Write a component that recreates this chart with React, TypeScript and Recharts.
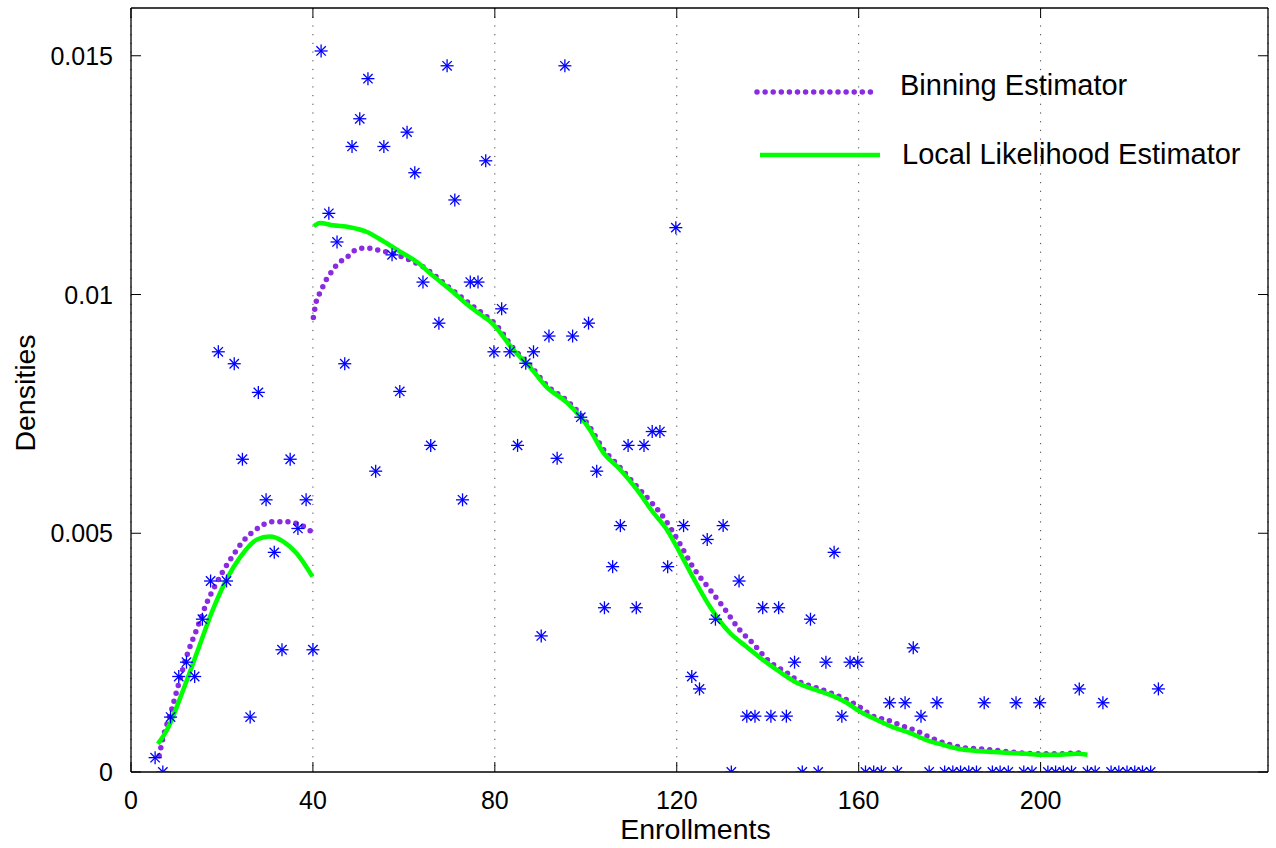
import React from 'react';
import { ComposedChart, Line, Scatter, XAxis, YAxis, CartesianGrid, Legend, Label } from 'recharts';

const FONT = '"Liberation Sans", Arial, Helvetica, sans-serif';

const xTicks = [0, 40, 80, 120, 160, 200];
const yTicks = [0, 0.005, 0.01, 0.015];
const yTickLabels = ['0', '0.005', '0.01', '0.015'];
const xDomain = [0, 250];
const yDomain = [0, 0.016];

const seriesNames = ['Binning Estimator', 'Local Likelihood Estimator'];
const xAxisTitle = 'Enrollments';
const yAxisTitle = 'Densities';

// observed histogram densities
const scatterX = [
  5.3, 7.0, 8.7, 10.5, 12.2, 14.0, 15.7, 17.5, 19.2, 21.0, 22.7, 24.5, 26.2, 28.0, 29.7, 31.5, 33.2, 35.0, 36.7, 38.5, 40.0,
  41.8, 43.5, 45.3, 47.0, 48.6, 50.3, 52.1, 53.8, 55.6, 57.4, 59.1, 60.7, 62.4, 64.2, 65.9, 67.7, 69.5, 71.2, 72.9, 74.6,
  76.3, 78.0, 79.8, 81.5, 83.3, 85.0, 86.8, 88.5, 90.2, 91.9, 93.7, 95.4, 97.1, 98.9, 100.6, 102.4, 104.1, 105.9, 107.6,
  109.3, 111.1, 112.8, 114.6, 116.3, 118.0, 119.8, 121.5, 123.3, 125.0, 126.7, 128.5, 130.2, 132.0, 133.7, 135.4, 137.2,
  138.9, 140.7, 142.4, 144.1, 145.9, 147.6, 149.4, 151.1, 152.8, 154.6, 156.3, 158.1, 159.8, 161.5, 163.3, 165.0, 166.8,
  168.5, 170.2, 172.0, 173.7, 175.5, 177.2, 178.9, 180.7, 182.4, 184.2, 185.9, 187.6, 189.4, 191.1, 192.9, 194.6, 196.3,
  198.1, 199.8, 201.6, 203.3, 205.0, 206.8, 208.5, 210.3, 212.0, 213.7, 215.5, 217.2, 219.0, 220.7, 222.4, 224.2, 225.9,
];
const scatterY = [
  0.0003, 0, 0.00115, 0.002, 0.0023, 0.002, 0.0032, 0.004, 0.0088, 0.004, 0.00855, 0.00655, 0.00115, 0.00795, 0.0057,
  0.0046, 0.00256, 0.00655, 0.0051, 0.0057, 0.00256,
  0.0151, 0.0117, 0.0111, 0.00855, 0.0131, 0.01368, 0.01452, 0.0063, 0.0131, 0.01083, 0.00797, 0.0134, 0.01255, 0.01026,
  0.00684, 0.0094, 0.01479, 0.01198, 0.0057, 0.01026,
  0.01026, 0.0128, 0.0088, 0.0097, 0.0088, 0.00684, 0.00856, 0.0088, 0.00285, 0.00913, 0.00657, 0.01479, 0.00913, 0.00743,
  0.0094, 0.0063, 0.00344, 0.0043, 0.00516,
  0.00684, 0.00344, 0.00684, 0.00713, 0.00713, 0.0043, 0.0114, 0.00516, 0.002, 0.00174, 0.00487, 0.0032, 0.00516, 0,
  0.004, 0.00117, 0.00117,
  0.00344, 0.00117, 0.00344, 0.00117, 0.0023, 0, 0.0032, 0, 0.0023, 0.0046, 0.00117, 0.0023, 0.0023, 0, 0, 0, 0.00145,
  0, 0.00145, 0.0026, 0.00117, 0, 0.00145, 0, 0, 0, 0, 0, 0.00145, 0, 0, 0, 0.00145, 0,
  0, 0.00145, 0, 0, 0, 0, 0.00174, 0, 0, 0.00145, 0, 0, 0, 0, 0, 0, 0.00174,
];

// Binning estimator (two pieces, split at 40)
const binLeftX = [6.2, 7.0, 8.8, 10.5, 12.5, 14.5, 16.7, 18.5, 20.2, 22.4, 24.6, 27.5, 31.0, 34.5, 37.8, 39.9];
const binLeftY = [0.00034, 0.0007, 0.00126, 0.00185, 0.0025, 0.003, 0.00355, 0.0039, 0.0042, 0.00453, 0.00483, 0.00508, 0.00524, 0.00524, 0.00515, 0.00502];
const binRightX = [
  40.1, 40.8, 41.8, 42.5, 43.5, 44.6, 45.9, 47.5, 48.8, 50.8, 52.5, 54.3, 56.3, 58.0, 59.8, 61.8, 63.5, 66.4, 69.5, 72.3,
  75.2, 78.2, 80.4, 84.0, 87.7, 91.4, 95.8, 98.7, 100.9, 103.7, 107.5, 111.4, 114.0, 116.5, 118.7, 120.7, 123.5, 127.3,
  130.5, 133.8, 136.7, 140.4, 144.2, 147.0, 150.8, 154.3, 157.4, 160.2, 163.1, 166.2, 169.5, 173.2, 176.5, 180.2, 183.7,
  187.5, 193.2, 200.4, 204.2, 207.9, 210.1,
];
const binRightY = [
  0.00952, 0.00988, 0.01007, 0.01024, 0.01039, 0.01055, 0.01068, 0.01078, 0.0109, 0.01097, 0.01097, 0.01093, 0.01089,
  0.01085, 0.01078, 0.0107, 0.01062, 0.01043, 0.01018, 0.00997, 0.00975, 0.00954, 0.00935, 0.00888, 0.00852, 0.0081,
  0.00778, 0.0075, 0.00722, 0.00678, 0.00638, 0.00596, 0.00569, 0.00541, 0.0051, 0.00478, 0.0043, 0.00382, 0.00342,
  0.00298, 0.0027, 0.00231, 0.00208, 0.00189, 0.00176, 0.00164, 0.00151, 0.00136, 0.00117, 0.00109, 0.00097, 0.00084,
  0.00069, 0.00057, 0.0005, 0.00048, 0.00042, 0.00038, 0.00038, 0.0004, 0.0004,
];

// Local likelihood estimator (two pieces, split at 40)
const llLeftX = [5.9, 7.9, 11.4, 14.5, 18.0, 21.1, 24.0, 27.7, 30.5, 33.4, 36.5, 39.9];
const llLeftY = [0.00059, 0.00088, 0.0017, 0.0025, 0.0034, 0.00405, 0.0045, 0.00487, 0.00493, 0.00483, 0.00457, 0.00409];
const llRightX = [
  40.2, 41.5, 44.4, 48.1, 51.9, 55.4, 59.1, 62.9, 66.4, 70.1, 73.8, 76.7, 79.6, 81.1, 84.0, 87.7, 91.4, 95.8, 98.7, 100.9,
  103.7, 107.5, 111.2, 114.7, 117.8, 120.7, 123.5, 127.3, 131.6, 135.4, 138.9, 142.6, 146.4, 149.9, 153.6, 157.4, 160.2,
  163.1, 167.5, 171.2, 174.9, 178.5, 182.2, 185.9, 189.5, 193.2, 196.9, 200.4, 204.2, 207.9, 210.3,
];
const llRightY = [
  0.01143, 0.0115, 0.01145, 0.01141, 0.01131, 0.01112, 0.0109, 0.01068, 0.01039, 0.01011, 0.0098, 0.00959, 0.00938,
  0.00921, 0.00885, 0.00848, 0.00806, 0.00774, 0.00745, 0.00717, 0.00671, 0.00634, 0.00592, 0.00545, 0.00508, 0.00459,
  0.00409, 0.00346, 0.00292, 0.00262, 0.00235, 0.0021, 0.00187, 0.00174, 0.00162, 0.00145, 0.00127, 0.00113, 0.00094,
  0.00082, 0.00067, 0.00057, 0.00048, 0.00044, 0.00042, 0.0004, 0.00038, 0.00036, 0.00036, 0.00038, 0.00036,
];

const zip = (xs: number[], ys: number[]) => xs.map((x, i) => ({ x, y: ys[i] }));

const scatterData = zip(scatterX, scatterY);
const binLeft = zip(binLeftX, binLeftY);
const binRight = zip(binRightX, binRightY);
const llLeft = zip(llLeftX, llLeftY);
const llRight = zip(llRightX, llRightY);

const PURPLE = '#8A2BE2';
const GREEN = '#00FF00';
const BLUE = '#0000FF';
const TICK_LEN = 10;

const Asterisk = (props: any) => {
  const { cx, cy } = props;
  if (cx == null || cy == null) return <g />;
  const r = 6.5;
  const d = r * 0.72;
  return (
    <g stroke={BLUE} strokeWidth={1.3}>
      <line x1={cx - r} y1={cy} x2={cx + r} y2={cy} />
      <line x1={cx} y1={cy - r} x2={cx} y2={cy + r} />
      <line x1={cx - d} y1={cy - d} x2={cx + d} y2={cy + d} />
      <line x1={cx - d} y1={cy + d} x2={cx + d} y2={cy - d} />
    </g>
  );
};

const BottomTick = (props: any) => {
  const { x, y, payload } = props;
  return (
    <g>
      <line x1={x} y1={y} x2={x} y2={y - TICK_LEN} stroke="#000" strokeWidth={1} />
      <text x={x} y={y + 37} textAnchor="middle" fontSize={25} fontFamily={FONT} fill="#000">
        {String(payload.value)}
      </text>
    </g>
  );
};

const TopTick = (props: any) => {
  const { x, y } = props;
  return <line x1={x} y1={y} x2={x} y2={y + TICK_LEN} stroke="#000" strokeWidth={1} />;
};

const LeftTick = (props: any) => {
  const { x, y, payload } = props;
  const idx = yTicks.indexOf(payload.value);
  const label = idx >= 0 ? yTickLabels[idx] : String(payload.value);
  return (
    <g>
      <line x1={x} y1={y} x2={x + TICK_LEN} y2={y} stroke="#000" strokeWidth={1} />
      <text x={x - 18} y={y} dy="0.36em" textAnchor="end" fontSize={25} fontFamily={FONT} fill="#000">
        {label}
      </text>
    </g>
  );
};

const RightTick = (props: any) => {
  const { x, y } = props;
  return <line x1={x} y1={y} x2={x - TICK_LEN} y2={y} stroke="#000" strokeWidth={1} />;
};

const LegendContent = () => (
  <svg width={520} height={120} style={{ display: 'block' }}>
    <line x1={7} y1={32} x2={128} y2={32} stroke={PURPLE} strokeWidth={5.5} strokeDasharray="0 8.1" strokeLinecap="round" />
    <text x={150} y={25} dy="0.36em" fontSize={29} fontFamily={FONT} fill="#000">{seriesNames[0]}</text>
    <line x1={10} y1={95} x2={130} y2={95} stroke={GREEN} strokeWidth={4.5} />
    <text x={152} y={94} dy="0.36em" fontSize={29} fontFamily={FONT} fill="#000">{seriesNames[1]}</text>
  </svg>
);

export default function App() {
  return (
    <div style={{ position: 'absolute', left: 0, top: 0, background: '#fff' }}>
      <ComposedChart width={1276} height={848} margin={{ top: 7, right: 7, bottom: 0, left: 0 }}>
        <CartesianGrid horizontal={false} vertical={true} stroke="#444" strokeDasharray="1.2 7.5" />
        <XAxis
          xAxisId={0}
          type="number"
          dataKey="x"
          domain={xDomain}
          ticks={xTicks}
          interval={0}
          allowDataOverflow
          height={76}
          tickSize={0}
          tickMargin={0}
          tickLine={false}
          axisLine={{ stroke: '#000', strokeWidth: 1.3 }}
          tick={(p: any) => <BottomTick {...p} />}
        >
          <Label
            content={(p: any) => {
              const vb = p.viewBox || {};
              return (
                <text x={vb.x + vb.width / 2 - 4} y={vb.y + 67} textAnchor="middle" fontSize={28.5} fontFamily={FONT} fill="#000">
                  {xAxisTitle}
                </text>
              );
            }}
          />
        </XAxis>
        <XAxis
          xAxisId="top"
          orientation="top"
          type="number"
          dataKey="x"
          domain={xDomain}
          ticks={xTicks}
          interval={0}
          allowDataOverflow
          height={1}
          tickSize={0}
          tickMargin={0}
          tickLine={false}
          axisLine={{ stroke: '#000', strokeWidth: 1.3 }}
          tick={(p: any) => <TopTick {...p} />}
        />
        <YAxis
          yAxisId={0}
          type="number"
          domain={yDomain}
          ticks={yTicks}
          interval={0}
          allowDataOverflow
          width={131}
          tickSize={0}
          tickMargin={0}
          tickLine={false}
          axisLine={{ stroke: '#000', strokeWidth: 1.3 }}
          tick={(p: any) => <LeftTick {...p} />}
        >
          <Label
            content={(p: any) => {
              const vb = p.viewBox || {};
              const cx = vb.x + 25;
              const cy = vb.y + vb.height / 2 + 3;
              return (
                <text x={cx} y={cy} dy="0.36em" transform={`rotate(-90, ${cx}, ${cy})`} textAnchor="middle" fontSize={28.5} fontFamily={FONT} fill="#000">
                  {yAxisTitle}
                </text>
              );
            }}
          />
        </YAxis>
        <YAxis
          yAxisId="right"
          orientation="right"
          type="number"
          domain={yDomain}
          ticks={yTicks}
          interval={0}
          allowDataOverflow
          width={1}
          tickSize={0}
          tickMargin={0}
          tickLine={false}
          axisLine={{ stroke: '#000', strokeWidth: 1.3 }}
          tick={(p: any) => <RightTick {...p} />}
        />
        <Legend
          layout="horizontal"
          verticalAlign="middle"
          align="center"
          content={() => <LegendContent />}
          wrapperStyle={{ position: 'absolute', left: 750, top: 60, width: 520, height: 120 }}
        />
        <Line data={binLeft} dataKey="y" type="monotone" stroke={PURPLE} strokeWidth={5.5} strokeDasharray="0 8.1" strokeLinecap="round" dot={false} activeDot={false} isAnimationActive={false} legendType="none" />
        <Line data={binRight} dataKey="y" type="monotone" stroke={PURPLE} strokeWidth={5.5} strokeDasharray="0 8.1" strokeLinecap="round" dot={false} activeDot={false} isAnimationActive={false} legendType="none" />
        <Line data={llLeft} dataKey="y" type="monotone" stroke={GREEN} strokeWidth={4.5} dot={false} activeDot={false} isAnimationActive={false} legendType="none" />
        <Line data={llRight} dataKey="y" type="monotone" stroke={GREEN} strokeWidth={4.5} dot={false} activeDot={false} isAnimationActive={false} legendType="none" />
        <Scatter data={scatterData} dataKey="y" shape={(p: any) => <Asterisk {...p} />} isAnimationActive={false} legendType="none" />
      </ComposedChart>
    </div>
  );
}
